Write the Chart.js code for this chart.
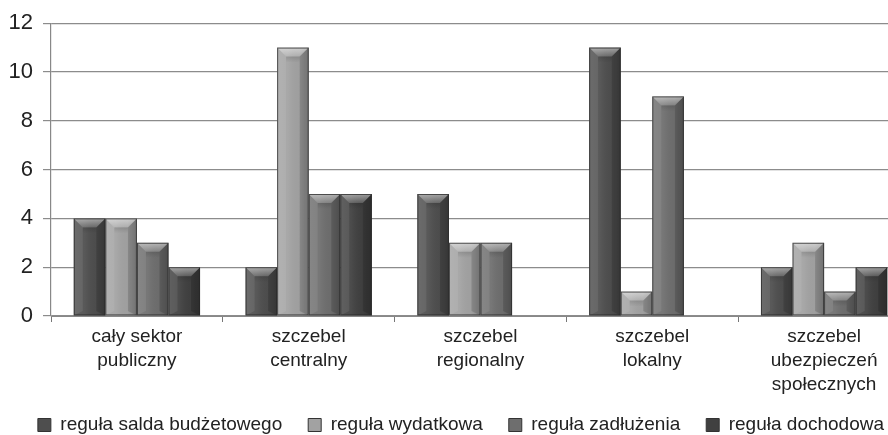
<!DOCTYPE html>
<html><head><meta charset="utf-8">
<script src="https://cdn.jsdelivr.net/npm/chart.js@4.4.0/dist/chart.umd.min.js"></script>
<style>
html,body{margin:0;padding:0;background:#fff;overflow:hidden;width:888px;height:435px;}
#wrap{position:relative;width:912px;height:435px;}
</style></head>
<body><div id="wrap"><canvas id="c"></canvas></div>
<script>
const categories = [['cały sektor','publiczny'],['szczebel','centralny'],['szczebel','regionalny'],['szczebel','lokalny'],['szczebel','ubezpieczeń','społecznych']];
const seriesNames = ['reguła salda budżetowego','reguła wydatkowa','reguła zadłużenia','reguła dochodowa'];
const saldo = [4,2,5,11,2];
const wydatkowa = [4,11,3,1,3];
const zadluzenia = [3,5,3,9,1];
const dochodowa = [2,5,0,0,2];
const yTicks = [0,2,4,6,8,10,12];
const colors = ['#4e4e4e','#a2a2a2','#6e6e6e','#404040'];

const FONT = "'Liberation Sans', Arial, sans-serif";

const bevelPlugin = {
  id:'bevel',
  afterDatasetsDraw(chart){
    const ctx = chart.ctx;
    chart.data.datasets.forEach((ds,di)=>{
      const meta = chart.getDatasetMeta(di);
      meta.data.forEach(el=>{
        const {x,y,base,width} = el.getProps(['x','y','base','width'],true);
        const h = base - y;
        if (h < 1) return;
        const L = x - width/2, R = x + width/2, T = y, B = base;
        const bv = Math.min(9, h/2);
        ctx.save();
        const g = ctx.createLinearGradient(L,0,R,0);
        g.addColorStop(0,'rgba(255,255,255,0.10)');
        g.addColorStop(0.35,'rgba(255,255,255,0.06)');
        g.addColorStop(0.7,'rgba(0,0,0,0.02)');
        g.addColorStop(1,'rgba(0,0,0,0.18)');
        ctx.fillStyle = g;
        ctx.fillRect(L,T,width,h);
        ctx.beginPath();
        ctx.moveTo(L,T); ctx.lineTo(R,T); ctx.lineTo(R-bv,T+bv); ctx.lineTo(L+bv,T+bv); ctx.closePath();
        const gt = ctx.createLinearGradient(0,T,0,T+bv);
        gt.addColorStop(0,'rgba(255,255,255,0.5)');
        gt.addColorStop(1,'rgba(255,255,255,0.15)');
        ctx.fillStyle = gt; ctx.fill();
        ctx.beginPath();
        ctx.moveTo(L,T); ctx.lineTo(L+bv,T+bv); ctx.lineTo(L+bv,B-bv*0.5); ctx.lineTo(L,B); ctx.closePath();
        ctx.fillStyle='rgba(255,255,255,0.08)'; ctx.fill();
        ctx.beginPath();
        ctx.moveTo(R,T); ctx.lineTo(R-bv,T+bv); ctx.lineTo(R-bv,B-bv*0.5); ctx.lineTo(R,B); ctx.closePath();
        ctx.fillStyle='rgba(0,0,0,0.14)'; ctx.fill();
        const gb = ctx.createLinearGradient(0,T+bv,0,T+bv+6);
        gb.addColorStop(0,'rgba(0,0,0,0.12)');
        gb.addColorStop(1,'rgba(0,0,0,0)');
        ctx.fillStyle = gb; ctx.fillRect(L+bv,T+bv,width-2*bv,Math.min(6,h-bv));
        ctx.strokeStyle='rgba(40,40,40,0.75)'; ctx.lineWidth=1;
        ctx.strokeRect(L+0.5,T+0.5,width-1,h-1);
        ctx.restore();
      });
    });
  }
};

const yAxisWidth = 51;
const xAxisHeight = 73.5;
new Chart(document.getElementById('c'),{
  type:'bar',
  data:{
    labels:categories,
    datasets:[saldo,wydatkowa,zadluzenia,dochodowa].map((d,i)=>({
      label:seriesNames[i], data:d, backgroundColor:colors[i], borderWidth:0,
      barPercentage:1.0, categoryPercentage:0.735
    }))
  },
  options:{
    responsive:true, maintainAspectRatio:false, animation:false, devicePixelRatio:1,
    layout:{padding:{top:22,right:2,left:0,bottom:-9.5}},
    plugins:{
      tooltip:{enabled:false},
      legend:{position:'bottom',align:'end',
        labels:{font:{family:FONT,size:19},color:'#222',boxWidth:13,boxHeight:13,padding:26,
          generateLabels(chart){
            return chart.data.datasets.map((ds,i)=>({text:ds.label,fillStyle:colors[i],strokeStyle:'#333',lineWidth:1,datasetIndex:i,fontColor:'#222'}));
          }}
      }
    },
    scales:{
      x:{
        afterFit(a){a.height=xAxisHeight; a._computeLabelArea=()=>undefined;},
        grid:{display:true,drawOnChartArea:false,drawTicks:true,tickLength:6,color:'#777',offset:true},
        border:{display:true,color:'#888',width:1},
        ticks:{font:{family:FONT,size:19,lineHeight:1.26},color:'#222',padding:3,maxRotation:0,autoSkip:false}
      },
      y:{
        min:0,max:12,
        afterFit(a){a.width=yAxisWidth;},
        afterBuildTicks(a){a.ticks=yTicks.map(v=>({value:v}));},
        grid:{color:'#8c8c8c',lineWidth:1.2,tickLength:8,drawTicks:true},
        border:{display:true,color:'#888',width:1.2},
        ticks:{font:{family:FONT,size:22},color:'#222',padding:10}
      }
    }
  },
  plugins:[bevelPlugin]
});
</script></body></html>
